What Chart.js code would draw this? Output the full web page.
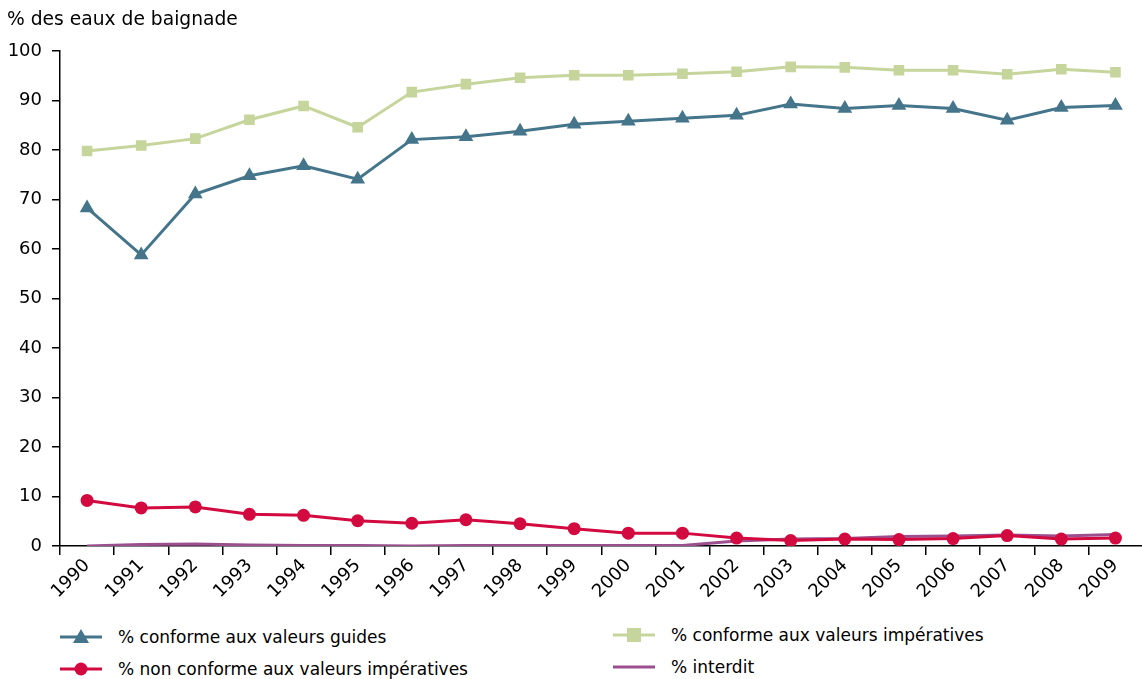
<!DOCTYPE html>
<html>
<head>
<meta charset="utf-8">
<script src="https://cdn.jsdelivr.net/npm/chart.js@4"></script>
<style>
    body { margin: 0; background: #fff; font-family: "DejaVu Sans", Verdana, sans-serif; }
    #wrap { position: relative; width: 1142px; height: 679px; overflow: hidden; }
    #yTitle { position: absolute; left: 7px; top: 8px; font-size: 18.7px; color: #000; }
    #chartBox { position: absolute; left: 0; top: 0; width: 1151px; height: 612px; }
    .leg { position: absolute; font-size: 17px; color: #000; display: flex; align-items: center; white-space: nowrap; }
    .leg canvas { margin-right: 14px; }
</style>
</head>
<body>
<div id="wrap">
    <div id="chartBox"><canvas id="mainChart"></canvas></div>
    <div id="yTitle">% des eaux de baignade</div>
    <div class="leg" style="left:58px; top:627px;"><canvas id="lg0" width="46" height="20"></canvas>% conforme aux valeurs guides</div>
    <div class="leg" style="left:58px; top:659px;"><canvas id="lg1" width="46" height="20"></canvas>% non conforme aux valeurs impératives</div>
    <div class="leg" style="left:611px; top:625px;"><canvas id="lg2" width="46" height="20"></canvas>% conforme aux valeurs impératives</div>
    <div class="leg" style="left:611px; top:657px;"><canvas id="lg3" width="46" height="20"></canvas>% interdit</div>
</div>
<script>
// données
const years = ['1990', '1991', '1992', '1993', '1994', '1995', '1996', '1997', '1998', '1999',
               '2000', '2001', '2002', '2003', '2004', '2005', '2006', '2007', '2008', '2009'];
const guideValues = [68.3, 58.8, 71.1, 74.8, 76.8, 74.1, 82.1, 82.7, 83.8, 85.2,
                     85.8, 86.4, 87.0, 89.3, 88.4, 89.0, 88.4, 86.0, 88.6, 89.0];
const imperativeValues = [79.8, 80.9, 82.3, 86.1, 88.9, 84.6, 91.7, 93.3, 94.6, 95.1,
                          95.1, 95.4, 95.8, 96.8, 96.7, 96.1, 96.1, 95.3, 96.3, 95.7];
const nonConformValues = [9.2, 7.7, 7.9, 6.4, 6.2, 5.1, 4.6, 5.3, 4.5, 3.5,
                          2.6, 2.6, 1.6, 1.1, 1.4, 1.3, 1.5, 2.1, 1.4, 1.6];
const banValues = [0.0, 0.3, 0.4, 0.2, 0.1, 0.1, 0.0, 0.1, 0.1, 0.1,
                   0.1, 0.1, 1.0, 1.4, 1.5, 1.9, 2.0, 2.2, 2.0, 2.3];
const yTicks = [0, 10, 20, 30, 40, 50, 60, 70, 80, 90, 100];

const COLORS = {
    guide: '#44758a',
    imperative: '#c5d59b',
    nonConform: '#d20a40',
    ban: '#9b4f8e'
};

function initChart() {
    const ctx = document.getElementById('mainChart');

    new Chart(ctx, {
        type: 'line',
        data: {
            labels: years,
            datasets: [{
                label: '% interdit',
                data: banValues,
                borderColor: COLORS.ban,
                borderWidth: 3,
                pointRadius: 0,
                order: 3
            }, {
                label: '% non conforme aux valeurs impératives',
                data: nonConformValues,
                borderColor: COLORS.nonConform,
                backgroundColor: COLORS.nonConform,
                borderWidth: 3,
                pointStyle: 'circle',
                pointRadius: 6.5,
                pointBorderWidth: 0,
                order: 2
            }, {
                label: '% conforme aux valeurs impératives',
                data: imperativeValues,
                borderColor: COLORS.imperative,
                backgroundColor: COLORS.imperative,
                borderWidth: 3,
                pointStyle: 'rect',
                pointRadius: 7.5,
                pointBorderWidth: 0,
                order: 1
            }, {
                label: '% conforme aux valeurs guides',
                data: guideValues,
                borderColor: COLORS.guide,
                backgroundColor: COLORS.guide,
                borderWidth: 3,
                pointStyle: 'triangle',
                pointRadius: 8.5,
                pointBorderWidth: 0,
                order: 0
            }]
        },
        options: {
            responsive: true,
            maintainAspectRatio: false,
            animation: false,
            layout: { padding: { top: 51, right: 0, left: 0, bottom: 0 } },
            plugins: {
                legend: { display: false },
                tooltip: { enabled: false }
            },
            scales: {
                x: {
                    offset: true,
                    grid: { offset: true, drawOnChartArea: false, drawTicks: true, tickLength: 9, color: '#000', lineWidth: 1.5 },
                    border: { display: true, color: '#000', width: 1.5 },
                    ticks: {
                        color: '#000',
                        font: { family: 'DejaVu Sans', size: 18 },
                        minRotation: 45,
                        maxRotation: 45,
                        padding: 0,
                        autoSkip: false
                    },
                    afterFit: scale => { scale.height = 66; }
                },
                y: {
                    min: 0,
                    max: 100,
                    afterBuildTicks: scale => { scale.ticks = yTicks.map(v => ({ value: v })); },
                    grid: { drawOnChartArea: false, drawTicks: true, tickLength: 8, color: '#000', lineWidth: 1.5 },
                    border: { display: true, color: '#000', width: 1.5 },
                    ticks: {
                        color: '#000',
                        font: { family: 'DejaVu Sans', size: 18 },
                        padding: 10
                    },
                    afterFit: scale => { scale.width = 60; }
                }
            }
        }
    });
}

// symboles de la légende
function drawLegendMarker(id, color, shape) {
    const c = document.getElementById(id).getContext('2d');
    c.strokeStyle = color;
    c.fillStyle = color;
    c.lineWidth = 3;
    c.beginPath();
    c.moveTo(2, 10);
    c.lineTo(44, 10);
    c.stroke();
    c.beginPath();
    if (shape === 'triangle') {
        c.moveTo(23, 2);
        c.lineTo(31, 16);
        c.lineTo(15, 16);
        c.closePath();
        c.fill();
    } else if (shape === 'circle') {
        c.arc(23, 10, 6.5, 0, Math.PI * 2);
        c.fill();
    } else if (shape === 'rect') {
        c.fillRect(16, 3, 14, 14);
    }
}

document.addEventListener('DOMContentLoaded', function() {
    initChart();
    drawLegendMarker('lg0', COLORS.guide, 'triangle');
    drawLegendMarker('lg1', COLORS.nonConform, 'circle');
    drawLegendMarker('lg2', COLORS.imperative, 'rect');
    drawLegendMarker('lg3', COLORS.ban, 'line');
});
</script>
</body>
</html>
